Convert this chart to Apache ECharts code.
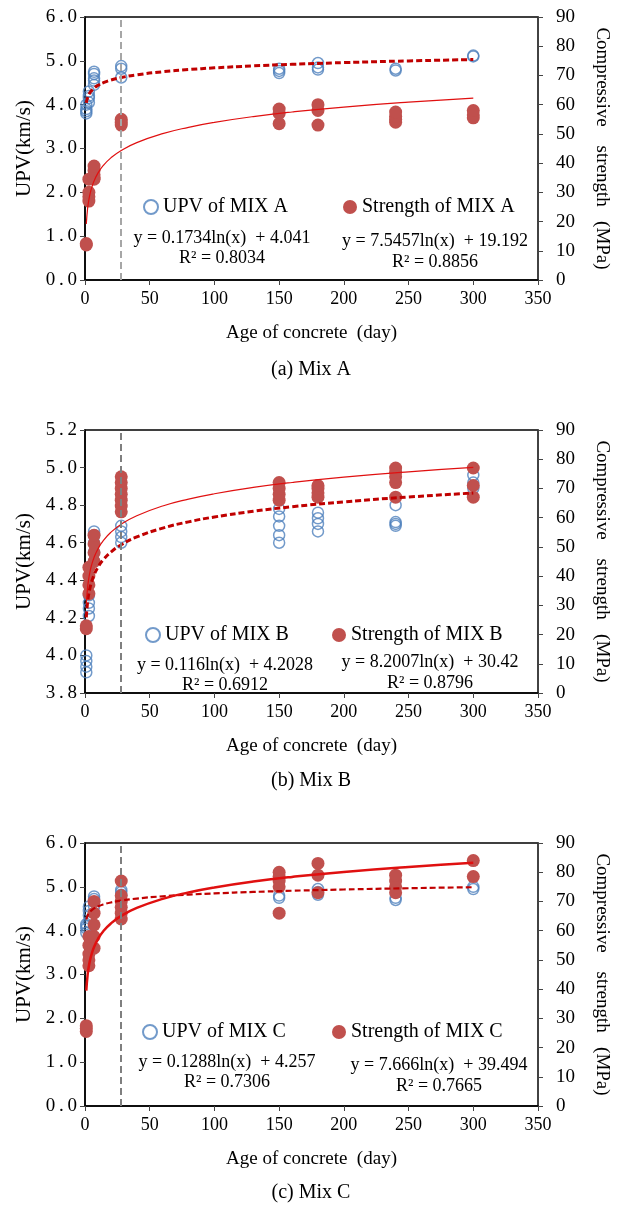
<!DOCTYPE html>
<html>
<head>
<meta charset="utf-8">
<script src="https://cdn.jsdelivr.net/npm/echarts@6/dist/echarts.min.js"></script>
<style>
  html, body { margin: 0; padding: 0; background: #fff; }
  #chart { width: 625px; height: 1206px; }
</style>
</head>
<body>
<div id="chart"></div>
<script>
// test ages (day) shared by all three mixes
const ages = [1, 3, 7, 28, 150, 180, 240, 300];

// UPV readings (km/s) and strengths (MPa), one inner list per age
const upvA = [[3.8, 3.85, 3.9, 4.0], [4.05, 4.15, 4.2, 4.3], [4.45, 4.55, 4.6, 4.7, 4.75], [4.62, 4.82, 4.88], [4.72, 4.77, 4.82], [4.8, 4.85, 4.95], [4.78, 4.82], [5.1, 5.12]];
const strA = [[12, 12.5], [27, 28.5, 30, 34.5], [34.5, 35, 36, 37.5, 39], [53, 54, 55], [53.5, 57, 58.5], [53, 58, 60], [54, 55, 56, 57.5], [55.5, 56.5, 58]];

const upvB = [[3.91, 3.94, 3.97, 4.0], [4.21, 4.25, 4.28, 4.32], [4.5, 4.55, 4.6, 4.64, 4.66], [4.6, 4.63, 4.66, 4.69], [4.6, 4.64, 4.69, 4.74, 4.78], [4.66, 4.7, 4.73, 4.76], [4.69, 4.7, 4.71, 4.8], [4.89, 4.92, 4.96]];
const strB = [[22, 23], [34, 37, 40, 43], [45, 48, 51, 54], [62, 64, 66, 68, 70, 72, 74], [66, 68, 70, 72], [67, 68.5, 70, 71], [67, 72, 74, 75.5, 77], [67, 71, 77]];

const upvC = [[3.95, 4.05, 4.1, 4.15], [4.2, 4.35, 4.45, 4.55], [4.55, 4.65, 4.72, 4.78], [4.82, 4.88, 4.93], [4.75, 4.8], [4.82, 4.88, 4.95], [4.7, 4.75], [4.95, 5.0]];
const strC = [[25.5, 26.5, 27.5], [48, 50, 52, 55, 58], [54, 58, 62, 66, 70], [64, 66, 68, 70, 72, 77], [66, 75, 77, 78.5, 80], [73, 79, 83], [73, 75, 77, 79], [78.5, 84]];

// log trendlines as printed on the chart: [slope, intercept]
const upvFitA = [0.1734, 4.041], strFitA = [7.5457, 19.192];
const upvFitB = [0.116, 4.2028], strFitB = [8.2007, 30.42];
const upvFitC = [0.1288, 4.257], strFitC = [7.666, 39.494];
const fitX = [1, 2, 3, 4, 5, 7, 10, 14, 20, 28, 40, 60, 80, 100, 130, 160, 200, 250, 300];

const xTicks = { min: 0, max: 350, interval: 50 };
const upvRanges = [[0, 6, 1], [3.8, 5.2, 0.2], [0, 6, 1]];
const strRange = [0, 90, 10];

const FONT = '"Liberation Serif", "DejaVu Serif", serif';
const BLUE = '#4F81BD';
const RED = '#C0504D';
const LINE_RED = '#C00000';

function pairs(groups) {
  const out = [];
  groups.forEach((vals, i) => vals.forEach(v => out.push([ages[i], v])));
  return out;
}
function fit(c) {
  return fitX.map(x => [x, +(c[0] * Math.log(x) + c[1]).toFixed(4)]);
}

const panels = [
  { key: 'A', top: 17, upv: upvA, str: strA, uf: upvFitA, sf: strFitA, vline: '#A6A6A6',
    dashW: 3, solidW: 1.2, r1: '0.8034', r2: '0.8856',
    eqL: [222, 238], eqR: [435, 241], legY: 207, legL: 143, legR: 343, cap: 370 },
  { key: 'B', top: 430, upv: upvB, str: strB, uf: upvFitB, sf: strFitB, vline: '#7F7F7F',
    dashW: 3, solidW: 1.2, r1: '0.6912', r2: '0.8796',
    eqL: [225, 665], eqR: [430, 662], legY: 635, legL: 145, legR: 332, cap: 781 },
  { key: 'C', top: 843, upv: upvC, str: strC, uf: upvFitC, sf: strFitC, vline: '#7F7F7F',
    dashW: 2.2, solidW: 2.5, r1: '0.7306', r2: '0.7665',
    eqL: [227, 1062], eqR: [439, 1065], legY: 1032, legL: 142, legR: 332, cap: 1193 }
];
const eqText = {
  A: ['y = 0.1734ln(x)  + 4.041', 'y = 7.5457ln(x)  + 19.192'],
  B: ['y = 0.116ln(x)  + 4.2028', 'y = 8.2007ln(x)  + 30.42'],
  C: ['y = 0.1288ln(x)  + 4.257', 'y = 7.666ln(x)  + 39.494']
};
const captions = ['(a) Mix A', '(b) Mix B', '(c) Mix C'];

const grid = [], xAxis = [], yAxis = [], series = [], legend = [], graphic = [];
const tickStyle = { fontFamily: FONT, fontSize: 19, color: '#000' };

panels.forEach((p, i) => {
  grid.push({ left: 85, top: p.top, width: 453, height: 263, show: true,
    borderColor: '#000', borderWidth: 1.5, backgroundColor: '#fff' });
  xAxis.push({
    type: 'value', gridIndex: i, min: xTicks.min, max: xTicks.max, interval: xTicks.interval,
    name: 'Age of concrete  (day)', nameLocation: 'middle', nameGap: 44,
    nameTextStyle: { fontFamily: FONT, fontSize: 19, color: '#000' },
    axisLine: { lineStyle: { color: '#000', width: 1.5 } },
    axisTick: { show: true, inside: false, length: 5, lineStyle: { color: '#444' } },
    axisLabel: Object.assign({ margin: 10 }, tickStyle, { fontSize: 18 }),
    splitLine: { show: false }
  });
  const ur = upvRanges[i];
  yAxis.push({
    type: 'value', gridIndex: i, min: ur[0], max: ur[1], interval: ur[2], position: 'left',
    name: 'UPV(km/s)', nameLocation: 'middle', nameGap: 47, nameRotate: 90,
    nameTextStyle: { fontFamily: FONT, fontSize: 21, color: '#000' },
    axisLine: { show: true, lineStyle: { color: '#000', width: 1.5 } },
    axisTick: { show: true, length: 5, lineStyle: { color: '#444' } },
    axisLabel: Object.assign({ margin: 8, formatter: v => v.toFixed(1).replace('.', '\u2009.\u2009') }, tickStyle),
    splitLine: { show: false }
  });
  yAxis.push({
    type: 'value', gridIndex: i, min: strRange[0], max: strRange[1], interval: strRange[2], position: 'right',
    name: 'Compressive    strength   (MPa)', nameLocation: 'middle', nameGap: 54, nameRotate: -90,
    nameTextStyle: { fontFamily: FONT, fontSize: 19, color: '#000' },
    axisLine: { show: true, lineStyle: { color: '#444', width: 1.5 } },
    axisTick: { show: true, length: 5, lineStyle: { color: '#444' } },
    axisLabel: Object.assign({ margin: 18 }, tickStyle),
    splitLine: { show: false }
  });

  const upvName = 'UPV of MIX ' + p.key;
  const strName = 'Strength of MIX ' + p.key;
  series.push({
    name: upvName, type: 'scatter', xAxisIndex: i, yAxisIndex: 2 * i,
    data: pairs(p.upv), symbol: 'circle', symbolSize: 11,
    itemStyle: { color: 'rgba(255,255,255,0)', borderColor: BLUE, borderWidth: 1.5 },
    markLine: {
      silent: true, symbol: 'none', label: { show: false },
      lineStyle: { color: p.vline, type: [7, 4], width: 2 },
      data: [{ xAxis: 28 }]
    },
    z: 2
  });
  series.push({
    name: strName, type: 'scatter', xAxisIndex: i, yAxisIndex: 2 * i + 1,
    data: pairs(p.str), symbol: 'circle', symbolSize: 13,
    itemStyle: { color: RED, opacity: 1 }, z: 3
  });
  series.push({
    type: 'line', xAxisIndex: i, yAxisIndex: 2 * i, data: fit(p.uf),
    smooth: true, showSymbol: false, symbol: 'none', silent: true,
    lineStyle: { color: LINE_RED, width: p.dashW, type: [6, 3] }, z: 4
  });
  series.push({
    type: 'line', xAxisIndex: i, yAxisIndex: 2 * i + 1, data: fit(p.sf),
    smooth: true, showSymbol: false, symbol: 'none', silent: true,
    lineStyle: { color: '#E01010', width: p.solidW }, z: 4
  });

  const legText = { fontFamily: FONT, fontSize: 20, color: '#000' };
  legend.push({ data: [upvName], left: p.legL, top: p.legY - 10, padding: 0, itemWidth: 14, itemHeight: 14,
    itemGap: 0, selectedMode: false, textStyle: legText });
  legend.push({ data: [strName], left: p.legR, top: p.legY - 10, padding: 0, itemWidth: 14, itemHeight: 14,
    itemGap: 0, selectedMode: false, textStyle: legText });

  const eqStyle = { fontFamily: FONT, fontSize: 18, fill: '#000', textAlign: 'center', textVerticalAlign: 'middle' };
  graphic.push({ type: 'text', x: p.eqL[0], y: p.eqL[1], style: Object.assign({ text: eqText[p.key][0] }, eqStyle) });
  graphic.push({ type: 'text', x: p.eqL[0], y: p.eqL[1] + 20, style: Object.assign({ text: 'R² = ' + p.r1 }, eqStyle) });
  graphic.push({ type: 'text', x: p.eqR[0], y: p.eqR[1], style: Object.assign({ text: eqText[p.key][1] }, eqStyle) });
  graphic.push({ type: 'text', x: p.eqR[0], y: p.eqR[1] + 21, style: Object.assign({ text: 'R² = ' + p.r2 }, eqStyle) });
  graphic.push({ type: 'text', x: 311, y: p.cap, style: { text: captions[i], fontFamily: FONT, fontSize: 20,
    fill: '#000', textAlign: 'center', textVerticalAlign: 'middle' } });
});

const chart = echarts.init(document.getElementById('chart'), null, { renderer: 'canvas' });
chart.setOption({
  animation: false,
  backgroundColor: '#fff',
  grid, xAxis, yAxis, series, legend, graphic
});
</script>
</body>
</html>
